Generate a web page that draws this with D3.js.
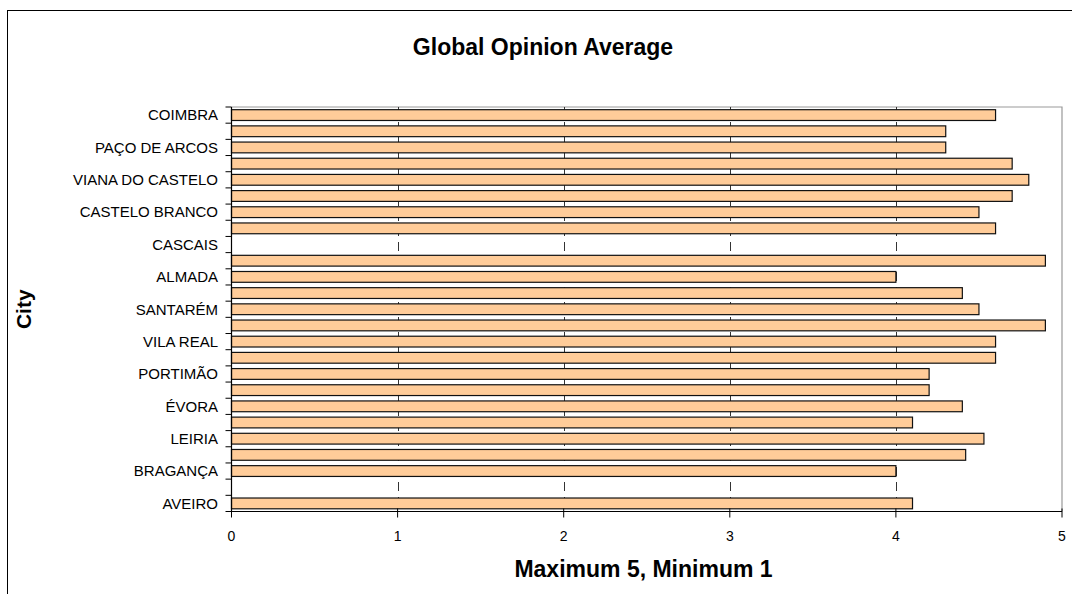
<!DOCTYPE html>
<html><head><meta charset="utf-8">
<script src="https://cdn.jsdelivr.net/npm/d3@7"></script>
<style>body{margin:0;background:#fff}svg{display:block}text{font-family:"Liberation Sans",Arial,sans-serif}</style>
</head><body>
<script>
// Categories listed top to bottom; unlabelled rows (every other one) are left blank as in the source
const cities = ["COIMBRA","","PAÇO DE ARCOS","","VIANA DO CASTELO","","CASTELO BRANCO","","CASCAIS","","ALMADA","","SANTARÉM","","VILA REAL","","PORTIMÃO","","ÉVORA","","LEIRIA","","BRAGANÇA","","AVEIRO"];
const values = [4.6,4.3,4.3,4.7,4.8,4.7,4.5,4.6,null,4.9,4.0,4.4,4.5,4.9,4.6,4.6,4.2,4.2,4.4,4.1,4.53,4.42,4.0,null,4.1];
const xTicks = [0,1,2,3,4,5];
const title = "Global Opinion Average";
const xTitle = "Maximum 5, Minimum 1";
const yTitle = "City";

const W = 1072, H = 594;
const svg = d3.select("body").append("svg").attr("width", W).attr("height", H);
svg.append("rect").attr("x",7.5).attr("y",10.5).attr("width",W).attr("height",H).attr("fill","#fff").attr("stroke","#000").attr("stroke-width",1);

const L = 231.5, R = 1062, T = 107, B = 511.5;
const x = d3.scaleLinear().domain([0,5]).range([L,R]);
const y = d3.scaleBand().domain(d3.range(cities.length)).range([T,B]).paddingInner(1/3).paddingOuter(1/6);
const step = y.step();

// plot area frame (top/right gray)
svg.append("path").attr("d",`M${L},${T}H${R}V${B}`).attr("fill","none").attr("stroke","#999").attr("stroke-width",1.2);

// gridlines
svg.append("g").selectAll("line").data(xTicks.filter(t=>t>0&&t<5)).join("line")
  .attr("x1",d=>Math.round(x(d))+0.5).attr("x2",d=>Math.round(x(d))+0.5).attr("y1",T).attr("y2",B)
  .attr("stroke","#333").attr("stroke-width",1).attr("stroke-dasharray","9,6");

// bars
svg.append("g").selectAll("rect").data(values.map((v,i)=>({v,i})).filter(d=>d.v!=null)).join("rect")
  .attr("x",x(0)).attr("y",d=>y(d.i)).attr("width",d=>x(d.v)-x(0)).attr("height",y.bandwidth())
  .attr("fill","#FFCC99").attr("stroke","#111").attr("stroke-width",1.2);

// y axis
svg.append("line").attr("x1",L).attr("x2",L).attr("y1",T).attr("y2",B).attr("stroke","#000").attr("stroke-width",1.2);
svg.append("g").selectAll("line").data(d3.range(cities.length+1)).join("line")
  .attr("x1",L-6).attr("x2",L).attr("y1",i=>T+i*step).attr("y2",i=>T+i*step).attr("stroke","#000");
svg.append("g").selectAll("text").data(cities.map((c,i)=>({c,i})).filter(d=>d.c)).join("text")
  .attr("x",218).attr("y",d=>y(d.i)+y.bandwidth()/2).attr("dy","0.35em").attr("text-anchor","end")
  .attr("font-size",15).text(d=>d.c);

// x axis
svg.append("line").attr("x1",L).attr("x2",R).attr("y1",B).attr("y2",B).attr("stroke","#000").attr("stroke-width",1.2);
svg.append("g").selectAll("line").data(xTicks).join("line")
  .attr("x1",d=>x(d)).attr("x2",d=>x(d)).attr("y1",B-3).attr("y2",B+6).attr("stroke","#000");
svg.append("g").selectAll("text").data(xTicks).join("text")
  .attr("x",d=>x(d)).attr("y",540.5).attr("text-anchor","middle").attr("font-size",14).text(d=>d);

// titles
svg.append("text").attr("x",543).attr("y",55).attr("text-anchor","middle").attr("font-size",23).attr("font-weight","bold").text(title);
svg.append("text").attr("x",643.5).attr("y",577).attr("text-anchor","middle").attr("font-size",23).attr("font-weight","bold").text(xTitle);
svg.append("text").attr("transform",`translate(31,${(T+B)/2}) rotate(-90)`).attr("text-anchor","middle").attr("font-size",21).attr("font-weight","bold").text(yTitle);
</script>
</body></html>
